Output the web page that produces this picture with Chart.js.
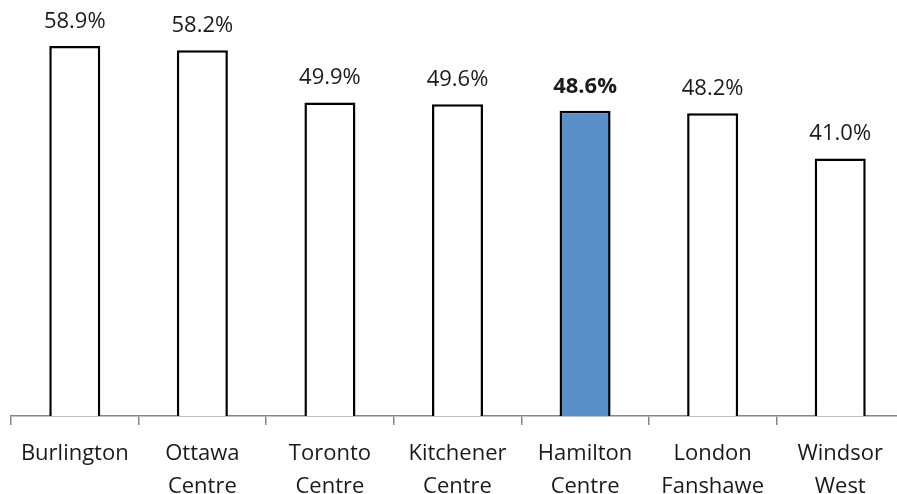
<!DOCTYPE html>
<html>
<head>
<meta charset="utf-8">
<script src="https://cdn.jsdelivr.net/npm/chart.js@4"></script>
<style>
  html, body { margin: 0; padding: 0; background: #fff; overflow: hidden; }
  #wrap { width: 904px; height: 515px; }
</style>
</head>
<body>
<div id="wrap"><canvas id="c"></canvas></div>
<script>
// Ridings and their share (%)
const ridings = [
  ['Burlington'],
  ['Ottawa', 'Centre'],
  ['Toronto', 'Centre'],
  ['Kitchener', 'Centre'],
  ['Hamilton', 'Centre'],
  ['London', 'Fanshawe'],
  ['Windsor', 'West']
];
const shares = [58.9, 58.2, 49.9, 49.6, 48.6, 48.2, 41.0];
const highlighted = 'Hamilton';

const FONT = '"Open Sans", "Noto Sans", sans-serif';
const isHi = i => ridings[i][0] === highlighted;

// Percentage labels written above each bar
const valueLabels = {
  id: 'valueLabels',
  afterDatasetsDraw(chart) {
    const { ctx } = chart;
    const meta = chart.getDatasetMeta(0);
    ctx.save();
    ctx.textAlign = 'center';
    ctx.textBaseline = 'alphabetic';
    ctx.fillStyle = '#1a1a1a';
    meta.data.forEach((bar, i) => {
      ctx.font = (isHi(i) ? 'bold ' : '') + '22px ' + FONT;
      ctx.fillText(shares[i].toFixed(1) + '%', bar.x, bar.y - 18);
    });
    ctx.restore();
  }
};

new Chart(document.getElementById('c'), {
  type: 'bar',
  data: {
    labels: ridings,
    datasets: [{
      data: shares,
      backgroundColor: shares.map((_, i) => isHi(i) ? '#5a8ec6' : '#ffffff'),
      borderColor: '#000000',
      borderWidth: 2.5,
      barPercentage: 0.4,
      categoryPercentage: 1.0
    }]
  },
  options: {
    responsive: true,
    maintainAspectRatio: false,
    animation: false,
    layout: { padding: { top: 39, left: 11, right: 0, bottom: 0 } },
    plugins: { legend: { display: false }, tooltip: { enabled: false } },
    scales: {
      x: {
        offset: true,
        grid: {
          offset: true,
          drawOnChartArea: false,
          drawTicks: true,
          tickLength: 9,
          color: '#868686',
          lineWidth: 1.5
        },
        border: { color: '#868686', width: 1.5 },
        ticks: {
          color: '#1a1a1a',
          font: { family: FONT, size: 22, lineHeight: 1.5 },
          padding: 12,
          maxRotation: 0,
          autoSkip: false
        }
      },
      y: {
        display: false,
        min: 0,
        max: 60
      }
    }
  },
  plugins: [valueLabels]
});
</script>
</body>
</html>
